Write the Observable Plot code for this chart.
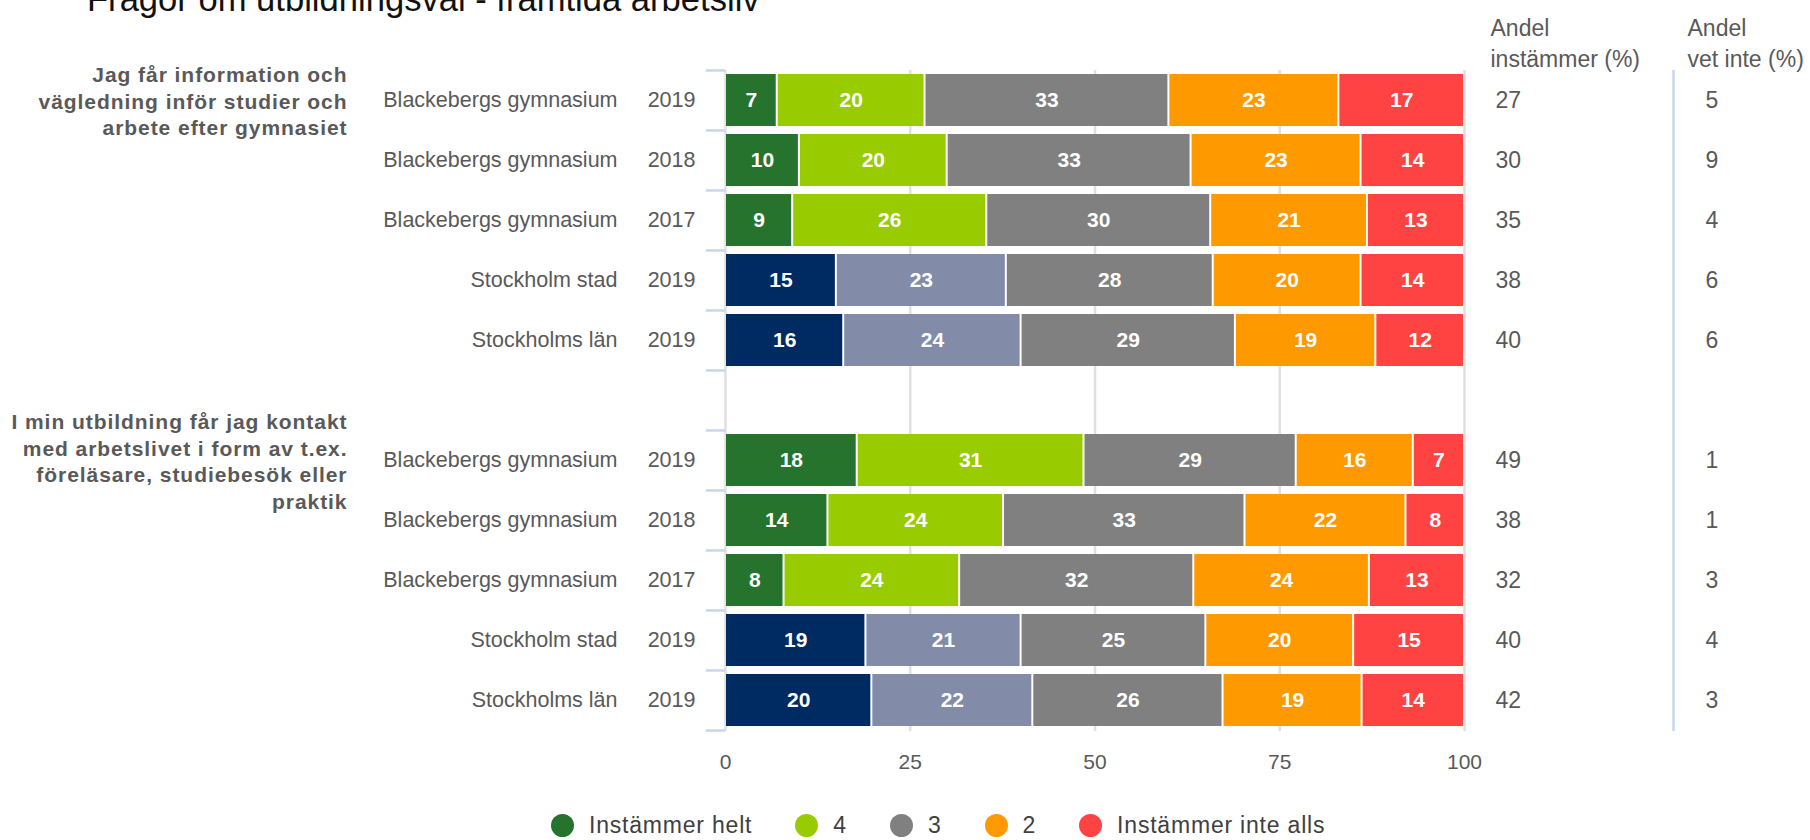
<!DOCTYPE html>
<html><head><meta charset="utf-8">
<script src="https://cdn.jsdelivr.net/npm/d3@7"></script>
<script src="https://cdn.jsdelivr.net/npm/@observablehq/plot@0.6"></script>
<style>
body{margin:0;background:#fff;font-family:"Liberation Sans",Arial,sans-serif;}
#wrap{position:relative;width:1810px;height:840px;overflow:hidden;background:#fff;}
#title{position:absolute;left:87px;top:-18px;font-size:34.6px;line-height:1;color:#111;white-space:nowrap;z-index:2}
#legend{display:flex;align-items:center;margin-top:19px;padding-left:551px;height:23px;font-size:23px;color:#404040;letter-spacing:0.8px}
.item{display:flex;align-items:center;margin-right:43px}
.sw{width:23px;height:23px;border-radius:50%;margin-right:15px;flex:none}
</style></head><body>
<div id="wrap"><div id="title"></div><div id="chart"></div><div id="legend"></div></div>
<script>
const title = "Frågor om utbildningsval - framtida arbetsliv";
const categories = ["Instämmer helt", "4", "3", "2", "Instämmer inte alls"];
const colorsBlackeberg = ["#26732e", "#99cc00", "#808080", "#ff9900", "#ff4343"];
const colorsStockholm = ["#002b62", "#828ca8", "#808080", "#ff9900", "#ff4343"];
const questions = [
  "Jag får information och\nvägledning inför studier och\narbete efter gymnasiet",
  "I min utbildning får jag kontakt\nmed arbetslivet i form av t.ex.\nföreläsare, studiebesök eller\npraktik"
];
const units = ["Blackebergs gymnasium", "Blackebergs gymnasium", "Blackebergs gymnasium", "Stockholm stad", "Stockholms län"];
const years = ["2019", "2018", "2017", "2019", "2019"];
const q1Values = [[7,20,33,23,17],[10,20,33,23,14],[9,26,30,21,13],[15,23,28,20,14],[16,24,29,19,12]];
const q2Values = [[18,31,29,16,7],[14,24,33,22,8],[8,24,32,24,13],[19,21,25,20,15],[20,22,26,19,14]];
const q1Agree = [27,30,35,38,40];
const q1DontKnow = [5,9,4,6,6];
const q2Agree = [49,38,32,40,42];
const q2DontKnow = [1,1,3,4,3];
const xTicks = [0, 25, 50, 75, 100];
const headerAgree = "Andel\ninstämmer (%)";
const headerDontKnow = "Andel\nvet inte (%)";

document.getElementById("title").textContent = title;

const qValues = [q1Values, q2Values];
const qAgree = [q1Agree, q2Agree];
const qDontKnow = [q1DontKnow, q2DontKnow];

const rows = [];
const domain = [];
const groups = [];
questions.forEach((q, qi) => {
  if (qi > 0) domain.push("gap");
  units.forEach((u, i) => {
    const key = `${qi}-${i}`;
    domain.push(key);
    rows.push({key, unit: u, year: years[i], agree: qAgree[qi][i], dontKnow: qDontKnow[qi][i],
      kind: u.startsWith("Blackeberg") ? "B" : "S", values: qValues[qi][i]});
  });
  groups.push({key: `${qi}-0`, label: q});
});

const segments = [];
for (const r of rows) {
  r.values.forEach((v, ci) => segments.push({key: r.key, value: v, label: String(v), colorKey: `${r.kind}|${categories[ci]}`}));
}
const colorDomain = [...categories.map(c => `B|${c}`), ...categories.map(c => `S|${c}`)];
const colorRange = [...colorsBlackeberg, ...colorsStockholm];

const W = 1810, H = 795, mt = 70, mb = H - 731, ml = 725, mr = W - 1464;
const step = (H - mt - mb) / domain.length;

const chart = Plot.plot({
  width: W, height: H,
  marginTop: mt, marginBottom: mb, marginLeft: ml, marginRight: mr,
  style: {fontFamily: "Liberation Sans, Arial, sans-serif", fontSize: "21.5px", color: "#595959", background: "white"},
  x: {domain: [0, 1]},
  y: {domain, paddingInner: 0.133, paddingOuter: 0.0665},
  color: {type: "ordinal", domain: colorDomain, range: colorRange},
  marks: [
    Plot.ruleX([0, 0.25, 0.5, 0.75, 1], {stroke: "#e0e0e0", strokeWidth: 2.5}),
    Plot.ruleX([1], {dx: 209, stroke: "#c8d5ea", strokeWidth: 2.5}),
    Plot.axisY({ticks: domain, tickSize: 19, dy: -step / 2, tickFormat: () => "", stroke: "#c8d5ea", strokeWidth: 2.5, label: null}),
    Plot.axisY({ticks: [domain[domain.length - 1]], tickSize: 19, dy: step / 2, tickFormat: () => "", stroke: "#c8d5ea", strokeWidth: 2.5, label: null}),
    Plot.axisX({ticks: xTicks.map(d => d / 100), tickFormat: d => String(Math.round(d * 100)), tickSize: 0, tickPadding: 23, fontSize: 21, label: null}),
    Plot.barX(segments, Plot.stackX({x: "value", y: "key", fill: "colorKey", offset: "normalize", insetLeft: 1, insetRight: 1})),
    Plot.text(segments, Plot.stackX({x: "value", y: "key", z: "colorKey", offset: "normalize", text: "label", fill: "white", fontWeight: "bold", fontSize: 21})),
    Plot.text(rows, {y: "key", text: "unit", frameAnchor: "left", textAnchor: "end", dx: -108}),
    Plot.text(rows, {y: "key", text: "year", frameAnchor: "left", textAnchor: "end", dx: -30}),
    Plot.text(groups, {y: "key", text: "label", frameAnchor: "left", textAnchor: "end", dx: -378, fontWeight: "bold", fontSize: 21, lineHeight: 26.5 / 21}),
    Plot.text(rows, {y: "key", text: d => String(d.agree), frameAnchor: "right", textAnchor: "start", dx: 31, fontSize: 23}),
    Plot.text(rows, {y: "key", text: d => String(d.dontKnow), frameAnchor: "right", textAnchor: "start", dx: 241, fontSize: 23}),
    Plot.text([headerAgree], {text: d => d, frameAnchor: "top-right", textAnchor: "start", lineAnchor: "top", dx: 26, dy: -55.8, fontSize: 23, lineHeight: 30.5 / 23}),
    Plot.text([headerDontKnow], {text: d => d, frameAnchor: "top-right", textAnchor: "start", lineAnchor: "top", dx: 223, dy: -55.8, fontSize: 23, lineHeight: 30.5 / 23})
  ]
});
document.getElementById("chart").appendChild(chart);

// slightly wider letter spacing for the question labels, as in the reference
const qFlat = new Set(questions.map(q => q.replace(/\n/g, "")));
d3.select(chart).selectAll("text")
  .filter(function() { return qFlat.has(this.textContent); })
  .style("letter-spacing", "0.95px");

const legend = d3.select("#legend");
categories.forEach((c, i) => {
  const it = legend.append("div").attr("class", "item");
  it.append("div").attr("class", "sw").style("background", colorsBlackeberg[i]);
  it.append("span").text(c);
});
</script>
</body></html>
